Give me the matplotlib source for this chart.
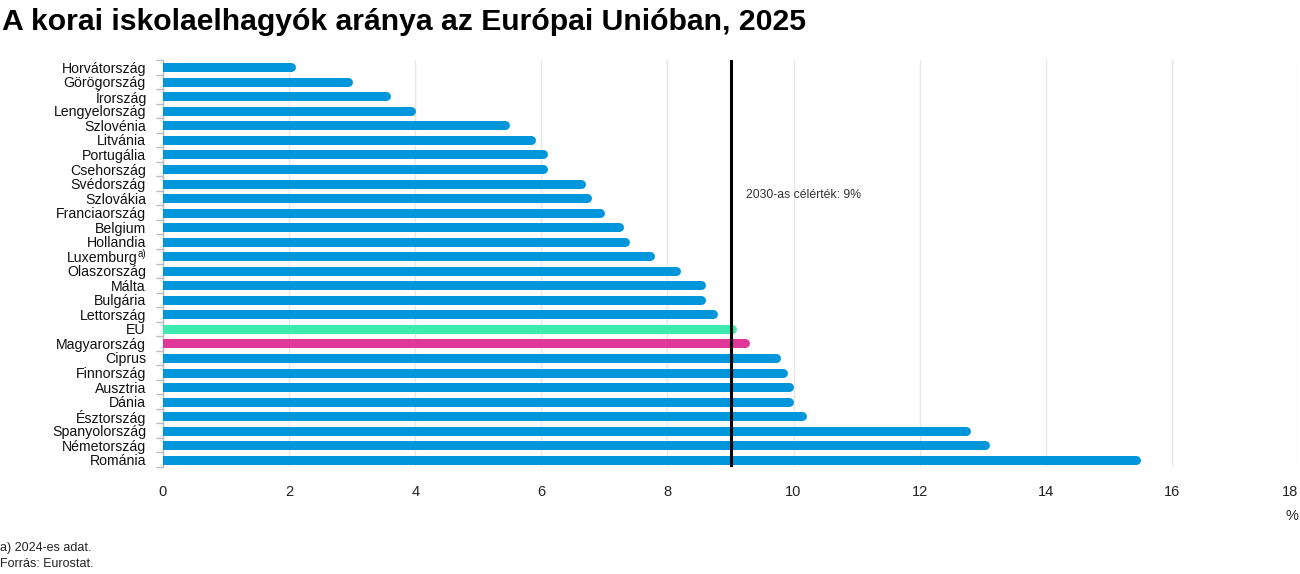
import matplotlib
matplotlib.use("Agg")
import matplotlib.pyplot as plt
from matplotlib.ticker import FixedLocator
from matplotlib.transforms import blended_transform_factory, ScaledTranslation

plt.rcParams['font.family'] = ['Liberation Sans', 'DejaVu Sans']

countries = ["Horvátország", "Görögország", "Írország", "Lengyelország", "Szlovénia",
             "Litvánia", "Portugália", "Csehország", "Svédország", "Szlovákia",
             "Franciaország", "Belgium", "Hollandia", "Luxemburg",
             "Olaszország", "Málta", "Bulgária", "Lettország", "EU", "Magyarország",
             "Ciprus", "Finnország", "Ausztria", "Dánia", "Észtország",
             "Spanyolország", "Németország", "Románia"]
footnoted = "Luxemburg"
values = [2.1, 3.0, 3.6, 4.0, 5.5, 5.9, 6.1, 6.1, 6.7, 6.8, 7.0, 7.3, 7.4, 7.8,
          8.2, 8.6, 8.6, 8.8, 9.1, 9.3, 9.8, 9.9, 10.0, 10.0, 10.2, 12.8, 13.1, 15.5]
target = 9
xticks = [0, 2, 4, 6, 8, 10, 12, 14, 16, 18]

BLUE = "#0096DB"
GREEN = "#3DEBAF"
PINK = "#E0379A"
colors = [GREEN if c == "EU" else PINK if c == "Magyarország" else BLUE for c in countries]

W, H = 1300, 574
fig = plt.figure(figsize=(W / 100, H / 100), dpi=100)
ax = fig.add_axes([163 / W, 1 - 467 / H, 1135 / W, 407 / H])

ax.set_xlim(0, 18)
ax.set_ylim(len(countries) - 0.5, -0.5)

bar_px = 9
lw = bar_px * 72 / 100
px_per_unit = 1135 / 18
cap = (bar_px / 2) / px_per_unit

for i, (v, c) in enumerate(zip(values, colors)):
    lc = ax.hlines(i, -1, v - cap, colors=c, linewidth=lw, zorder=3)
    lc.set_capstyle('round')

ax.axvline(target, color="black", linewidth=2.2, zorder=4)
ax.text(target + 0.25, 8.8, "2030-as célérték: 9%", fontsize=8.8, color="#333333",
        va="center", ha="left", zorder=5)

ax.set_xticks(xticks)
xl = ax.set_xticklabels([str(t) for t in xticks], fontsize=10.5, color="#222222")
xl[-1].set_ha('right')
xl[-1].set_transform(xl[-1].get_transform() + ScaledTranslation(9 / 100, 0, fig.dpi_scale_trans))
ax.tick_params(axis='x', length=0, pad=13)
ax.grid(axis='x', color="#E6E6E6", linewidth=1, zorder=0)

label_pad_px = 17
ax.set_yticks(range(len(countries)))
yl = ax.set_yticklabels(countries, fontsize=10.2, color="#111111")
ax.tick_params(axis='y', which='major', length=0, pad=label_pad_px * 72 / 100)
ax.yaxis.set_minor_locator(FixedLocator([i - 0.5 for i in range(len(countries) + 1)]))
ax.tick_params(axis='y', which='minor', length=5, width=1, color="#BBBBBB")

# superscript footnote mark for Luxemburg
idx = countries.index(footnoted)
trans = blended_transform_factory(ax.transAxes, ax.transData) + \
    ScaledTranslation(-label_pad_px / 100, 2 / 100, fig.dpi_scale_trans)
sup = ax.text(0, idx, "a)", fontsize=7, ha='right', va='center', color="#111111",
              transform=trans)
fig.canvas.draw()
w_px = sup.get_window_extent(fig.canvas.get_renderer()).width
yl[idx].set_transform(yl[idx].get_transform() + ScaledTranslation(-w_px / 100, 0, fig.dpi_scale_trans))

for s in ['top', 'right', 'bottom']:
    ax.spines[s].set_visible(False)
ax.spines['left'].set_color("#BBBBBB")
ax.spines['left'].set_linewidth(1)

fig.text(2 / W, 1 - 22 / H, "A korai iskolaelhagyók aránya az Európai Unióban, 2025",
         fontsize=21.7, fontweight='bold', va='center', ha='left')
fig.text(1292 / W, 1 - 516 / H, "%", fontsize=10.5, ha='center', va='center', color="#222222")
fig.text(0, 1 - 548 / H, "a) 2024-es adat.", fontsize=9, ha='left', va='center', color="#222222")
fig.text(0, 1 - 564 / H, "Forrás: Eurostat.", fontsize=9, ha='left', va='center', color="#222222")

fig.savefig("out.png", dpi=100)
